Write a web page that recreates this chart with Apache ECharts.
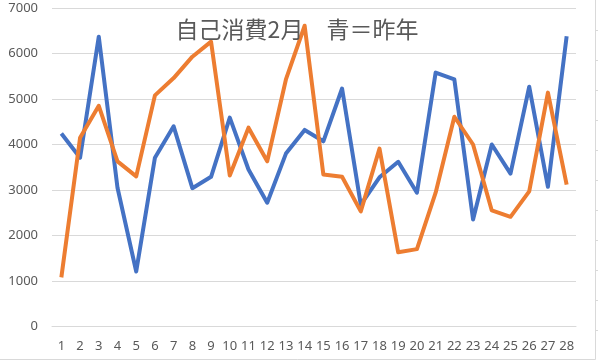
<!DOCTYPE html>
<html>
<head>
<meta charset="utf-8">
<script src="https://cdn.jsdelivr.net/npm/echarts@6/dist/echarts.min.js"></script>
<style>html,body{margin:0;padding:0;background:#fff}#c{width:598px;height:360px}</style>
</head>
<body>
<div id="c"></div>
<script>
const categories = ['1','2','3','4','5','6','7','8','9','10','11','12','13','14','15','16','17','18','19','20','21','22','23','24','25','26','27','28'];
const lastYear = [4240,3710,6370,3050,1210,3710,4400,3040,3290,4590,3450,2720,3800,4320,4070,5230,2680,3280,3620,2940,5580,5430,2350,4000,3360,5270,3070,6380];
const thisYear = [1080,4150,4850,3630,3300,5080,5460,5930,6260,3320,4370,3630,5430,6610,3340,3290,2530,3910,1630,1700,2940,4610,4000,2550,2410,2970,5140,3120];
const yTicks = {min:0, max:7000, interval:1000};
const titleText = '自己消費2月　青＝昨年';

const chart = echarts.init(document.getElementById('c'));
const edgeTicks = [];
for (let y = 30; y < 360; y += 30) {
  edgeTicks.push({type:'line', shape:{x1:595, y1:y+0.5, x2:598, y2:y+0.5}, style:{stroke:'#d9d9d9', lineWidth:1}, silent:true});
}
chart.setOption({
  animation:false,
  backgroundColor:'#fff',
  title:{text:titleText, left:292, top:13, textAlign:'center',
    textStyle:{fontFamily:'Noto Sans CJK JP', fontWeight:'normal', fontSize:23, color:'#595959'}},
  grid:{left:52, right:22, top:8, bottom:33.5, containLabel:false},
  xAxis:{type:'category', data:categories, boundaryGap:true,
    axisLine:{show:true, lineStyle:{color:'#d9d9d9', width:1}},
    axisTick:{show:false},
    axisLabel:{margin:13, fontFamily:'Noto Sans', fontSize:13, color:'#595959', interval:0}},
  yAxis:{type:'value', min:yTicks.min, max:yTicks.max, interval:yTicks.interval,
    axisLine:{show:false}, axisTick:{show:false},
    splitLine:{lineStyle:{color:'#d9d9d9', width:1}},
    axisLabel:{margin:14, fontFamily:'Noto Sans', fontSize:13, color:'#595959', formatter:function(v){return String(v);}}},
  series:[
    {type:'line', data:lastYear, symbol:'none', lineStyle:{color:'#4472C4', width:4, join:'round'}, itemStyle:{color:'#4472C4'}},
    {type:'line', data:thisYear, symbol:'none', lineStyle:{color:'#ED7D31', width:4, join:'round'}, itemStyle:{color:'#ED7D31'}}
  ],
  graphic:[
    {type:'line', shape:{x1:595.5, y1:0, x2:595.5, y2:359.5}, style:{stroke:'#d9d9d9', lineWidth:1}, silent:true},
    {type:'line', shape:{x1:0, y1:359.5, x2:595.5, y2:359.5}, style:{stroke:'#d9d9d9', lineWidth:1}, silent:true}
  ].concat(edgeTicks)
});
</script>
</body>
</html>
